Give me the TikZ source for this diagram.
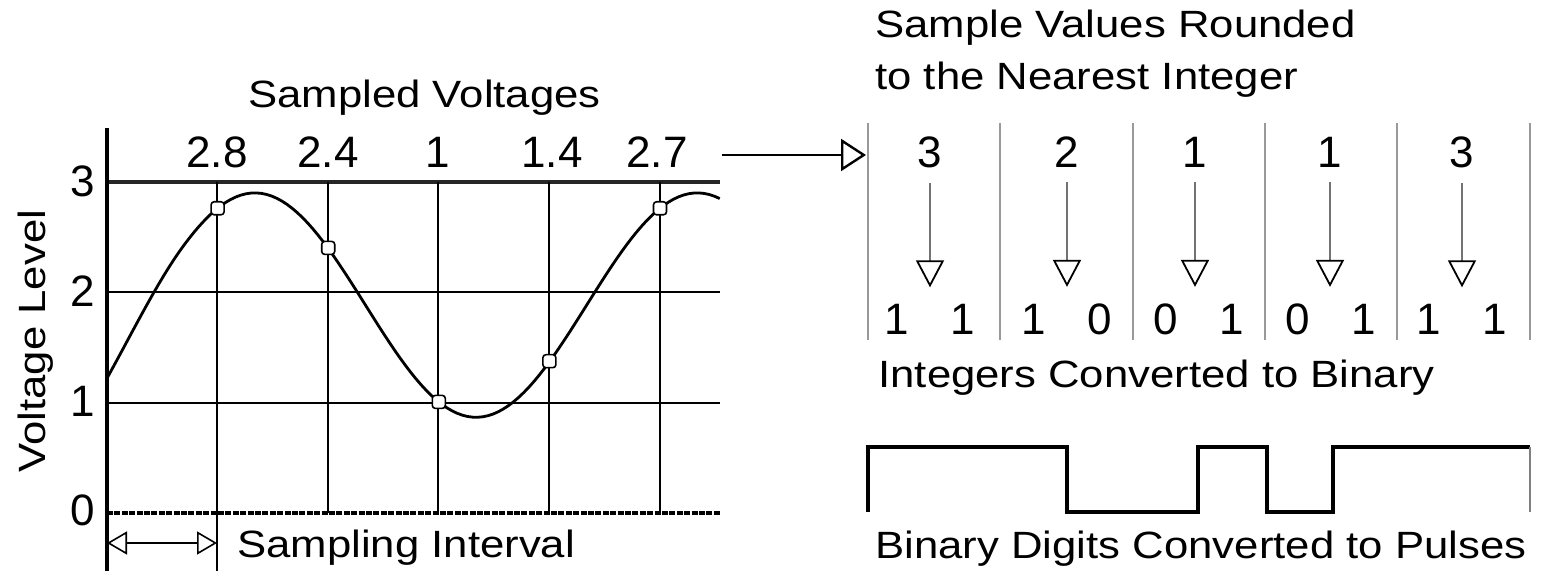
\documentclass[tikz,border=0pt]{standalone}
\usepackage{fontspec}
\setmainfont{Liberation Sans}
\newfontfamily\lblfont{Liberation Sans}[FakeStretch=1.15]
\usetikzlibrary{arrows.meta}
\tikzset{
  lbl/.style={font=\lblfont\fontsize{19pt}{23pt}\selectfont, inner sep=0pt},
  num/.style={font=\fontsize{22pt}{26pt}\selectfont, inner sep=0pt},
  sample/.style={draw, fill=white, rounded corners=1.5pt, line width=0.8pt, minimum size=6.5pt, inner sep=0pt},
  conv/.style={draw=black!55, line width=0.9pt, shorten <=7pt, shorten >=8.5pt,
    -{Triangle[length=13.5pt, width=14pt, fill=white, color=black, line width=0.9pt]}},
  sep/.style={draw=black!40, line width=0.9pt}
}
\begin{document}
\begin{tikzpicture}[x=0.5pt, y=-0.5pt]
  \useasboundingbox (0,0) rectangle (1544,571);

  \draw[line width=1.7pt, black!85] (107,182) -- (720,182);
  \draw[line width=1.3pt] (107,292) -- (720,292);
  \draw[line width=1.3pt] (107,403) -- (720,403);
  \draw[line width=1.7pt, dash pattern=on 3pt off 0.7pt] (107,513) -- (720,513);
  \draw[line width=1.1pt] (217,182) -- (217,571);
  \draw[line width=1.1pt] (328,182) -- (328,513);
  \draw[line width=1.1pt] (438,182) -- (438,513);
  \draw[line width=1.1pt] (549,182) -- (549,513);
  \draw[line width=1.1pt] (660,182) -- (660,513);
  \draw[line width=2pt] (107,128) -- (107,571);

  \begin{scope}[shift={(107,513)}, x=55.3pt, y=55pt, domain=0:5.54]
    \draw[line width=1.4pt] plot[samples=120] (\x, {1.89+1.02*cos(deg(2*pi*(\x-1.337)/4))-0.15*(max(0,1-\x/0.7))^2});
    \node[sample] (s1) at (1,2.77) {};
    \node[sample] (s2) at (2,2.41) {};
    \node[sample] (s3) at (3,1.01) {};
    \node[sample] (s4) at (4,1.38) {};
    \node[sample] (s5) at (5,2.77) {};
  \end{scope}

  \node[num, anchor=east] (y3) at (95,181) {3};
  \node[num, anchor=east] (y2) at (95,291) {2};
  \node[num, anchor=east] (y1) at (95,401) {1};
  \node[num, anchor=east] (y0) at (95,510) {0};
  \node[lbl, rotate=90] (ylab) at (36,341) {Voltage Level};

  \node[lbl, anchor=base west] (title) at (248,108) {Sampled Voltages};
  \node[num, anchor=base] (v1) at (217,168) {2.8};
  \node[num, anchor=base] (v2) at (328,168) {2.4};
  \node[num, anchor=base] (v3) at (438,168) {1};
  \node[num, anchor=base] (v4) at (552,168) {1.4};
  \node[num, anchor=base] (v5) at (657,168) {2.7};

  \coordinate (si1) at (107,543);
  \coordinate (si2) at (217,543);
  \draw[line width=0.8pt, {Triangle[length=10pt, width=11.5pt, fill=white]}-{Triangle[length=10pt, width=11.5pt, fill=white]}] (si1) -- (si2);
  \node[lbl, anchor=base west] (interval) at (237,558) {Sampling Interval};

  \coordinate (from) at (722,155);
  \coordinate (into) at (866,155);
  \draw[line width=1.2pt, -{Triangle[length=12.5pt, width=16pt, fill=white]}] (from) -- (into);

  \node[lbl, anchor=base west] (round1) at (875,38) {Sample Values Rounded};
  \node[lbl, anchor=base west] (round2) at (875,90) {to the Nearest Integer};

  \draw[sep] (868,123) -- (868,340);
  \draw[sep] (1000,123) -- (1000,340);
  \draw[sep] (1133,123) -- (1133,340);
  \draw[sep] (1265,123) -- (1265,340);
  \draw[sep] (1397,123) -- (1397,340);
  \draw[sep] (1530,123) -- (1530,340);

  \node[num, anchor=base] (t1) at (930,168) {3};
  \node[num, anchor=base] (t2) at (1067,168) {2};
  \node[num, anchor=base] (t3) at (1195,168) {1};
  \node[num, anchor=base] (t4) at (1330,168) {1};
  \node[num, anchor=base] (t5) at (1462,168) {3};

  \node[num, anchor=base] (p1) at (930,335) {1\hspace{21pt}1};
  \node[num, anchor=base] (p2) at (1067,335) {1\hspace{21pt}0};
  \node[num, anchor=base] (p3) at (1199,335) {0\hspace{21pt}1};
  \node[num, anchor=base] (p4) at (1331,335) {0\hspace{21pt}1};
  \node[num, anchor=base] (p5) at (1462,335) {1\hspace{21pt}1};

  \draw[conv] (t1) -- (t1 |- p1.north);
  \draw[conv] (t2) -- (t2 |- p2.north);
  \draw[conv] (t3) -- (t3 |- p3.north);
  \draw[conv] (t4) -- (t4 |- p4.north);
  \draw[conv] (t5) -- (t5 |- p5.north);

  \node[lbl, anchor=base west] (binary) at (878,388) {Integers Converted to Binary};

  \draw[line width=1.8pt] (868,512) -- (868,447) -- (1067,447) -- (1067,512) -- (1198,512) -- (1198,447) -- (1267,447) -- (1267,512) -- (1333,512) -- (1333,447) -- (1530,447);
  \draw[line width=0.9pt, black!50] (1530,447) -- (1530,512);

  \node[lbl, anchor=base west] (pulses) at (875,559) {Binary Digits Converted to Pulses};
\end{tikzpicture}
\end{document}
